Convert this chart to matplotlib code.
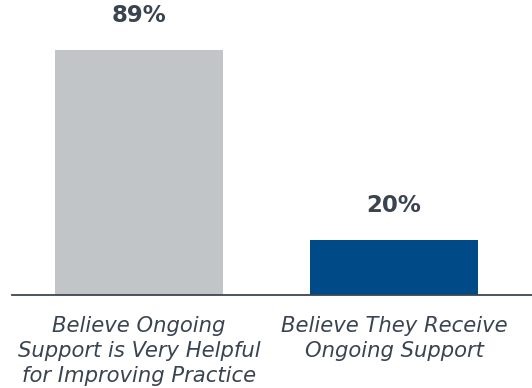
import matplotlib
matplotlib.use("Agg")
import matplotlib.pyplot as plt

categories = [
    "Believe Ongoing\nSupport is Very Helpful\nfor Improving Practice",
    "Believe They Receive\nOngoing Support",
]
values = [89, 20]
value_labels = ["89%", "20%"]
colors = ["#c1c5c8", "#004a87"]

text_color = "#3a4450"

fig = plt.figure(figsize=(5.32, 3.88), dpi=100)
ax = fig.add_axes([12 / 532, 93 / 388, 520 / 532, 295 / 388])

x = list(range(len(categories)))
bars = ax.bar(x, values, width=0.66, color=colors, zorder=2)

for xi, v, lab in zip(x, values, value_labels):
    ax.annotate(lab, (xi, v), xytext=(0, 25), textcoords="offset points",
                ha="center", va="center", fontsize=16.5, fontweight="bold",
                color=text_color, family="DejaVu Sans")

ax.set_xlim(-0.498, 1.541)
ax.set_ylim(0, 107.2)

for side in ("top", "right", "left"):
    ax.spines[side].set_visible(False)
ax.spines["bottom"].set_color("#3d4650")
ax.spines["bottom"].set_linewidth(1.3)
ax.set_yticks([])
ax.set_xticks(x)
ax.set_xticklabels(categories, fontsize=15.2, style="italic", color=text_color,
                   linespacing=1.31, family="DejaVu Sans")
ax.tick_params(axis="x", length=0, pad=15)

fig.savefig("out.png", dpi=100)
